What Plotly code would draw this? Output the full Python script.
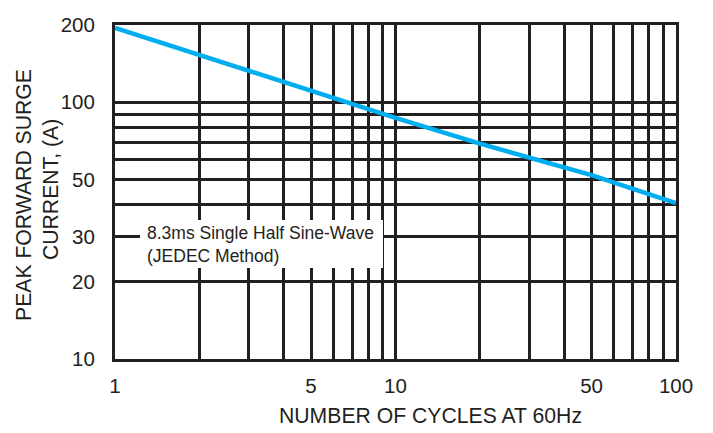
import math
import plotly.graph_objects as go

# Surge current rating curve (log-log)
cycles = [1, 2, 5, 10, 20, 50, 100]
surge_current = [195, 153, 110, 87, 69, 52, 40.5]

# Grid positions and the labels shown on them
x_grid = [1, 2, 3, 4, 5, 6, 7, 8, 9, 10, 20, 30, 40, 50, 60, 70, 80, 90, 100]
x_labels = ["1", "", "", "", "5", "", "", "", "", "10", "", "", "", "50", "", "", "", "", "100"]
y_grid = [10, 20, 30, 40, 50, 60, 70, 80, 90, 100, 200]
y_labels = ["10", "20", "30", "", "50", "", "", "", "", "100", "200"]

note_lines = ["8.3ms Single Half Sine-Wave", "(JEDEC Method)"]
x_title = "NUMBER OF CYCLES AT 60Hz"
y_title_lines = ["PEAK FORWARD SURGE", "CURRENT, (A)"]

INK = "#231f20"
FONT = "Liberation Sans, Arial, sans-serif"

fig = go.Figure()
fig.add_trace(go.Scatter(
    x=cycles, y=surge_current, mode="lines",
    line=dict(color="#00aeef", width=4.5),
    showlegend=False, hoverinfo="skip",
))

axis_common = dict(
    type="log", showgrid=True, gridcolor=INK, gridwidth=2.5,
    showline=True, linecolor=INK, linewidth=3, mirror=True,
    ticks="", zeroline=False,
    tickfont=dict(family=FONT, size=20.5, color=INK),
)

fig.update_xaxes(
    **axis_common, range=[0, 2], tickmode="array",
    tickvals=x_grid, ticktext=x_labels, ticklabelstandoff=6,
)
fig.update_yaxes(
    **axis_common, range=[1, math.log10(200)], tickmode="array",
    tickvals=y_grid, ticktext=y_labels, ticklabelstandoff=13,
)

# White panel behind the test-condition note
fig.add_shape(
    type="rect", xref="paper", yref="paper",
    x0=0.0446, x1=0.4777, y0=0.2725, y1=0.416,
    fillcolor="white", line=dict(width=0), layer="above",
)
fig.add_annotation(
    text="<br>".join(note_lines), xref="paper", yref="paper", x=0.0535, y=0.343,
    xanchor="left", yanchor="middle", align="left", showarrow=False,
    font=dict(family=FONT, size=17.5, color=INK),
)

# Axis titles
fig.add_annotation(
    text=x_title, xref="paper", yref="paper", x=0.5615, y=-0.1677,
    xanchor="center", yanchor="middle", showarrow=False,
    font=dict(family=FONT, size=21.2, color=INK),
)
for text, xpos, ypos in zip(y_title_lines, [-0.164, -0.114], [0.491, 0.506]):
    fig.add_annotation(
        text=text, xref="paper", yref="paper", x=xpos, y=ypos,
        xanchor="center", yanchor="middle", textangle=-90, showarrow=False,
        font=dict(family=FONT, size=21.2, color=INK),
    )

fig.update_layout(
    width=713, height=433,
    margin=dict(l=115, r=37, t=25, b=74),
    paper_bgcolor="white", plot_bgcolor="white",
    font=dict(family=FONT, color=INK),
)

fig.write_html("out.html")
